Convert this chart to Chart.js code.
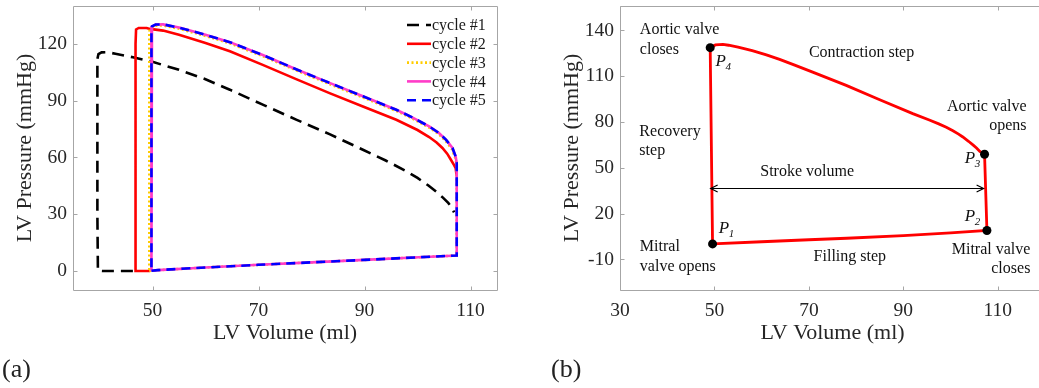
<!DOCTYPE html>
<html>
<head>
<meta charset="utf-8">
<script src="https://cdn.jsdelivr.net/npm/chart.js@4.4.1/dist/chart.umd.min.js"></script>
<style>
html, body { margin: 0; padding: 0; background: #fff; width: 1039px; height: 388px; overflow: hidden; }
#wa { position: absolute; left: 0; top: 0; width: 520px; height: 388px; }
#wb { position: absolute; left: 520px; top: 0; width: 540px; height: 388px; }
.tag { position: absolute; font-family: "Liberation Serif"; font-size: 26px; color: #222; line-height: 30px; }
</style>
</head>
<body>
<div id="wa"><canvas id="chartA"></canvas></div>
<div id="wb"><canvas id="chartB"></canvas></div>
<div class="tag" style="left:2px; top:354px;">(a)</div>
<div class="tag" style="left:551px; top:354px;">(b)</div>
<script>
// (a) five simulated cycles
const c1Vol = [46.3, 40.7, 39.7, 39.6, 39.6, 39.8, 40.4, 41.5, 43, 46.3, 50, 55, 60, 64.6, 70.8, 77.1, 83.4, 89.7, 94, 98, 100, 102, 103.5, 104.8, 105.8, 106.5, 106.9];
const c1Pres = [0, 0, 0.2, 30, 112, 114.6, 115.5, 115.6, 114.8, 112.9, 110.5, 106.3, 101.3, 95.8, 87.9, 80, 72.3, 64.1, 58.4, 52.6, 49.2, 45.3, 42, 38.8, 36, 33.5, 31];

const c2Vol = [49.5, 46.8, 46.8, 46.9, 47.4, 48.9, 49.5, 52, 55, 60, 64.6, 70.8, 77.1, 83.4, 89.7, 96, 100, 102.2, 103.6, 104.7, 105.6, 106.3, 106.9, 107.2, 107.4];
const c2Pres = [0, 0, 120, 127.6, 128.4, 128.4, 127.9, 127, 124.8, 120.5, 116.1, 108.9, 101.4, 94, 86.9, 79.9, 74.5, 70.8, 67.9, 65, 62, 58.8, 56, 54.4, 50];

const c3Vol = [49.4, 49.8, 51, 60, 70, 80, 90, 100.3, 107.4, 107.4, 107.1, 106.5, 105.3, 104, 102.2, 99, 96, 89.7, 83.4, 77.1, 70.8, 64.6, 60, 55, 52, 50.4, 49.5, 49.4, 49.4];
const c3Pres = [0, 0.2, 0.5, 1.9, 3.3, 4.6, 5.9, 7.3, 8.2, 56.5, 59.9, 64.4, 68.7, 72.4, 75.8, 80.6, 84.6, 91.7, 98.8, 106, 113.5, 120.3, 124.2, 128, 129.7, 129.6, 127.5, 126.5, 0];

const c4Vol = [49.8, 51, 60, 70, 80, 90, 100.3, 107.4, 107.4, 107.2, 106.6, 105.4, 104, 102.2, 99, 96, 89.7, 83.4, 77.1, 70.8, 64.6, 60, 55, 52, 50.6, 49.9, 49.8, 49.8];
const c4Pres = [0.2, 0.5, 1.9, 3.3, 4.6, 5.9, 7.3, 8.2, 57, 60.5, 65, 69.3, 73, 76.4, 81.2, 85.2, 92.3, 99.4, 106.6, 114.1, 120.9, 124.8, 128.6, 130.3, 130.2, 129.2, 127.5, 0.2];

const c5Vol = [49.8, 51, 60, 70, 80, 90, 100.3, 107.4, 107.4, 107.2, 106.6, 105.4, 104, 102.2, 99, 96, 89.7, 83.4, 77.1, 70.8, 64.6, 60, 55, 52, 50.6, 49.9, 49.8, 49.8];
const c5Pres = [0.2, 0.5, 1.9, 3.3, 4.6, 5.9, 7.3, 8.2, 57, 60.5, 65, 69.3, 73, 76.4, 81.2, 85.2, 92.3, 99.4, 106.6, 114.1, 120.9, 124.8, 128.6, 130.3, 130.2, 129.2, 127.5, 0.2];

const cycleLabels = ["cycle #1", "cycle #2", "cycle #3", "cycle #4", "cycle #5"];
const xTicksA = [50, 70, 90, 110];
const yTicksA = [0, 30, 60, 90, 120];

// (b) one PV loop
const pvVol = [49.6, 60, 70, 78, 90, 100, 107.7, 107.2, 106.8, 106.2, 105.5, 104.8, 103.8, 102.6, 101.7, 100.5, 99.1, 97.5, 95.5, 92, 85, 77.9, 70.8, 67, 63.8, 61, 58, 55, 53, 51.8, 50.2, 49.1, 49.6];
const pvPres = [0.2, 1.6, 2.9, 3.9, 5.6, 7.4, 9, 58.9, 59.6, 60.8, 63, 64.9, 67.4, 70.2, 72.1, 74.3, 76.6, 78.8, 81.3, 85.5, 94.6, 104, 112.7, 117.3, 121, 124, 126.8, 129, 130.3, 130.8, 130.5, 128.7, 0.2];
const ptVol = [49.6, 107.7, 107.2, 49.1];
const ptPres = [0.2, 9, 58.9, 128.7];
const ptNames = ["1", "2", "3", "4"];
const svVol = [49.2, 107.0];
const svPres = [37.1, 37.1];
const xTicksB = [30, 50, 70, 90, 110];
const yTicksB = [-10, 20, 50, 80, 110, 140];

const noteText = ["Aortic valve", "closes", "Contraction step", "Aortic valve", "opens", "Recovery", "step",
                  "Stroke volume", "Mitral", "valve opens", "Filling step", "Mitral valve", "closes"];
const noteX = [34.2, 34.2, 70, 116.1, 116.1, 34.1, 34.1, 59.7, 34.2, 34.2, 71, 116.9, 116.9];
const noteY = [140.4, 127.5, 125.1, 90.3, 77.4, 73.9, 61, 47.1, -1.8, -14.8, -8.5, -3.5, -16.1];
const noteAlign = ["left", "left", "left", "right", "right", "left", "left", "left", "left", "left", "left", "right", "right"];
const ptLabelX = [50.9, 103, 103, 50.2];
const ptLabelY = [10.3, 18.3, 56.3, 119.9];

const pairs = (xs, ys) => xs.map((v, i) => ({ x: v, y: ys[i] }));
const serif = "Liberation Serif";

const framePlugin = {
    id: "frame",
    afterDatasetsDraw(chart) {
        const { ctx, chartArea: a, scales: { x, y } } = chart;
        ctx.save();
        ctx.strokeStyle = "#a6a6a6";
        ctx.lineWidth = 1;
        ctx.beginPath();
        const l = Math.round(a.left) + 0.5, r = Math.round(a.right) + 0.5;
        const t = Math.round(a.top) + 0.5, b = Math.round(a.bottom) + 0.5;
        ctx.rect(l, t, r - l, b - t);
        x.ticks.forEach(tk => {
            const px = Math.round(x.getPixelForValue(tk.value)) + 0.5;
            ctx.moveTo(px, b); ctx.lineTo(px, b - 4);
            ctx.moveTo(px, t); ctx.lineTo(px, t + 4);
        });
        y.ticks.forEach(tk => {
            const py = Math.round(y.getPixelForValue(tk.value)) + 0.5;
            ctx.moveTo(l, py); ctx.lineTo(l + 4, py);
            ctx.moveTo(r, py); ctx.lineTo(r - 4, py);
        });
        ctx.stroke();
        ctx.restore();
    }
};

const legendA = {
    id: "legendA",
    afterDraw(chart) {
        const { ctx, chartArea: a } = chart;
        chart.data.datasets.forEach((ds, i) => {
            const yy = a.top + 19 + i * 18.8;
            ctx.save();
            ctx.strokeStyle = ds.borderColor;
            ctx.lineWidth = ds.borderWidth;
            ctx.setLineDash(ds.borderDash || []);
            ctx.beginPath();
            ctx.moveTo(a.right - 90, yy);
            ctx.lineTo(a.right - 66, yy);
            ctx.stroke();
            ctx.setLineDash([]);
            ctx.fillStyle = "#1a1a1a";
            ctx.font = "16px '" + serif + "'";
            ctx.textBaseline = "middle";
            ctx.textAlign = "left";
            ctx.fillText(ds.label, a.right - 65, yy + 1);
            ctx.restore();
        });
    }
};

const notesB = {
    id: "notesB",
    afterDatasetsDraw(chart) {
        const { ctx, scales: { x, y } } = chart;
        // stroke volume arrow
        const x1 = x.getPixelForValue(svVol[0]), x2 = x.getPixelForValue(svVol[1]);
        const ya = Math.round(y.getPixelForValue(svPres[0])) + 0.5;
        ctx.save();
        ctx.strokeStyle = "#000";
        ctx.lineWidth = 1.2;
        ctx.beginPath();
        ctx.moveTo(x1, ya); ctx.lineTo(x2, ya);
        ctx.moveTo(x1 + 7, ya - 3.5); ctx.lineTo(x1, ya); ctx.lineTo(x1 + 7, ya + 3.5);
        ctx.moveTo(x2 - 7, ya - 3.5); ctx.lineTo(x2, ya); ctx.lineTo(x2 - 7, ya + 3.5);
        ctx.stroke();
        ctx.restore();
    },
    afterDraw(chart) {
        const { ctx, scales: { x, y } } = chart;
        ctx.save();
        ctx.fillStyle = "#111";
        ctx.textBaseline = "middle";
        ctx.font = "16px '" + serif + "'";
        noteText.forEach((t, i) => {
            ctx.textAlign = noteAlign[i];
            ctx.fillText(t, x.getPixelForValue(noteX[i]), y.getPixelForValue(noteY[i]));
        });
        ctx.textAlign = "left";
        ptNames.forEach((n, i) => {
            const px = x.getPixelForValue(ptLabelX[i]), py = y.getPixelForValue(ptLabelY[i]);
            ctx.font = "italic 17px '" + serif + "'";
            ctx.fillText("P", px, py);
            ctx.font = "italic 11px '" + serif + "'";
            ctx.fillText(n, px + 10, py + 6);
        });
        ctx.restore();
    }
};

function axes(xMin, xMax, yMin, yMax, xTicks, yTicks, yWidth, xHeight, yTitlePad) {
    const tickFont = { family: serif, size: 19.5 };
    const titleFont = { family: serif, size: 22 };
    return {
        x: {
            type: "linear", min: xMin, max: xMax,
            afterBuildTicks: s => { s.ticks = xTicks.map(v => ({ value: v })); },
            afterFit: s => { s.height = xHeight; s.paddingLeft = 0; s.paddingRight = 0; },
            grid: { display: false, drawTicks: false },
            border: { display: false },
            ticks: { color: "#262626", font: tickFont, padding: 9, maxRotation: 0 },
            title: { display: true, text: "LV Volume (ml)", color: "#262626", font: titleFont, padding: { top: 0, bottom: 42 } }
        },
        y: {
            type: "linear", min: yMin, max: yMax,
            afterBuildTicks: s => { s.ticks = yTicks.map(v => ({ value: v })); },
            afterFit: s => { s.width = yWidth; s.paddingTop = 0; s.paddingBottom = 0; },
            grid: { display: false, drawTicks: false },
            border: { display: false },
            ticks: { color: "#262626", font: tickFont, padding: 6 },
            title: { display: true, text: "LV Pressure (mmHg)", color: "#262626", font: titleFont, padding: { top: yTitlePad, bottom: 0 } }
        }
    };
}

const lineDs = (label, xs, ys, color, width, dash, order) => ({
    label: label,
    data: pairs(xs, ys),
    showLine: true,
    borderColor: color,
    borderWidth: width,
    borderDash: dash,
    pointRadius: 0,
    tension: 0,
    fill: false,
    order: order
});

new Chart(document.getElementById("chartA"), {
    type: "scatter",
    data: {
        datasets: [
            lineDs(cycleLabels[0], c1Vol, c1Pres, "#000000", 2.6, [12, 7], 5),
            lineDs(cycleLabels[1], c2Vol, c2Pres, "#ff0000", 2.6, [], 4),
            lineDs(cycleLabels[2], c3Vol, c3Pres, "#ffcc00", 2.6, [2, 2.5], 3),
            lineDs(cycleLabels[3], c4Vol, c4Pres, "#ff3cc8", 2.6, [], 2),
            lineDs(cycleLabels[4], c5Vol, c5Pres, "#0000ff", 2.6, [9, 6], 1)
        ]
    },
    options: {
        responsive: true,
        maintainAspectRatio: false,
        animation: false,
        layout: { padding: { top: 6, right: 23, left: 0, bottom: 0 } },
        scales: axes(35, 115, -10, 140, xTicksA, yTicksA, 73, 98, 12),
        plugins: { legend: { display: false }, tooltip: { enabled: false } }
    },
    plugins: [framePlugin, legendA]
});

new Chart(document.getElementById("chartB"), {
    type: "scatter",
    data: {
        datasets: [
            lineDs("PV loop", pvVol, pvPres, "#ff0000", 2.8, [], 2),
            {
                label: "points",
                data: pairs(ptVol, ptPres),
                pointRadius: 4.5,
                pointBackgroundColor: "#000",
                pointBorderWidth: 0,
                showLine: false,
                order: 1
            }
        ]
    },
    options: {
        responsive: true,
        maintainAspectRatio: false,
        animation: false,
        layout: { padding: { top: 6, right: 15, left: 0, bottom: 0 } },
        scales: axes(30, 120, -30, 156, xTicksB, yTicksB, 100, 98, 39),
        plugins: { legend: { display: false }, tooltip: { enabled: false } }
    },
    plugins: [framePlugin, notesB]
});
</script>
</body>
</html>
